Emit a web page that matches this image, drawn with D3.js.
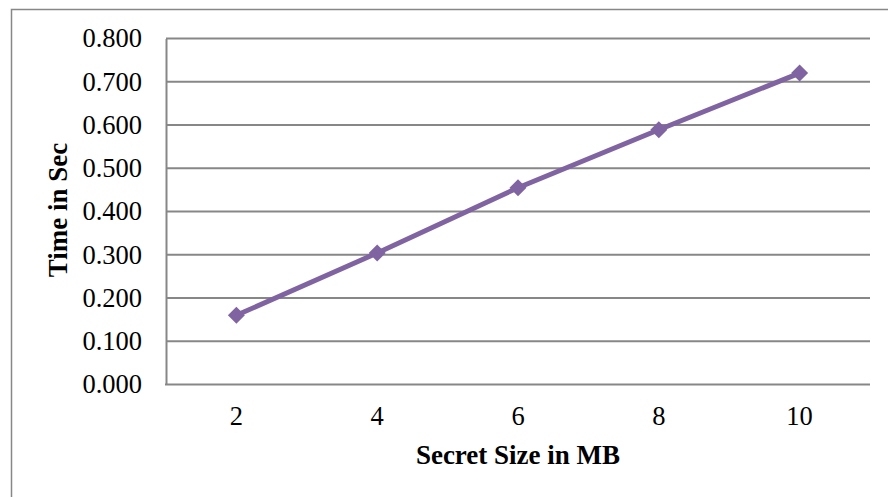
<!DOCTYPE html>
<html>
<head>
<meta charset="utf-8">
<script src="https://cdn.jsdelivr.net/npm/d3@7"></script>
<style>
  body { margin: 0; background: #fff; }
  text { font-family: "Liberation Serif", "Times New Roman", serif; fill: #000; }
  .tick-label { font-size: 26.5px; }
  .axis-title { font-size: 27px; font-weight: bold; }
</style>
</head>
<body>
<div id="chart"></div>
<script>
// DATA
const sizes = ["2", "4", "6", "8", "10"]
const times = [0.160, 0.304, 0.455, 0.589, 0.720]
const yTicks = [0, 0.1, 0.2, 0.3, 0.4, 0.5, 0.6, 0.7, 0.8]
const xTitle = "Secret Size in MB"
const yTitle = "Time in Sec"

// LAYOUT
const W = 888, H = 497
const PLOT = { LEFT: 166, RIGHT: 870, TOP: 38.5, BOTTOM: 384.5 }
const GRID_COLOR = "#878787"
const LINE_COLOR = "#8064A2"

const svg = d3.select("#chart").append("svg")
  .attr("width", W)
  .attr("height", H)

// outer chart frame (runs off the right and bottom of the picture)
svg.append("rect")
  .attr("x", 11.5).attr("y", 9.5)
  .attr("width", W + 20).attr("height", H + 20)
  .attr("fill", "none")
  .attr("stroke", GRID_COLOR)
  .attr("stroke-width", 1.5)

// SCALES
const xScale = d3.scaleBand().domain(sizes).range([PLOT.LEFT, PLOT.RIGHT])
const yScale = d3.scaleLinear().domain([0, 0.8]).range([PLOT.BOTTOM, PLOT.TOP])

// GRID
const gGrid = svg.append("g")
gGrid.selectAll("line").data(yTicks.filter(d => d > 0)).join("line")
  .attr("x1", PLOT.LEFT).attr("x2", PLOT.RIGHT)
  .attr("y1", d => yScale(d)).attr("y2", d => yScale(d))
  .attr("stroke", GRID_COLOR)
  .attr("stroke-width", 2)

// AXES
const yAxis = d3.axisLeft(yScale).tickValues(yTicks).tickSize(0).tickPadding(24)
  .tickFormat(d3.format(".3f"))
const gY = svg.append("g").attr("transform", `translate(${PLOT.LEFT},0)`).call(yAxis)
gY.select(".domain").attr("stroke", GRID_COLOR).attr("stroke-width", 2)
gY.selectAll("text").attr("class", "tick-label").attr("font-family", null).attr("font-size", null)
  .attr("dy", "0.32em")

const xAxis = d3.axisBottom(xScale).tickSize(0).tickPadding(22)
const gX = svg.append("g").attr("transform", `translate(0,${PLOT.BOTTOM})`).call(xAxis)
gX.select(".domain").attr("stroke", GRID_COLOR).attr("stroke-width", 2)
  .attr("d", `M${PLOT.LEFT - 1},0H${PLOT.RIGHT}`)
gX.selectAll("text").attr("class", "tick-label").attr("font-family", null).attr("font-size", null)
  .attr("dy", "0.68em")

// TITLES
svg.append("text")
  .attr("class", "axis-title")
  .attr("x", (PLOT.LEFT + PLOT.RIGHT) / 2).attr("y", 464)
  .attr("text-anchor", "middle")
  .text(xTitle)

svg.append("text")
  .attr("class", "axis-title")
  .attr("transform", `translate(67,210) rotate(-90)`)
  .attr("text-anchor", "middle")
  .text(yTitle)

// SERIES
const points = sizes.map((s, i) => ({ s: s, v: times[i] }))
const line = d3.line()
  .x(d => xScale(d.s) + xScale.bandwidth() / 2)
  .y(d => yScale(d.v))

svg.append("path")
  .datum(points)
  .attr("d", line)
  .attr("fill", "none")
  .attr("stroke", LINE_COLOR)
  .attr("stroke-width", 5)
  .attr("stroke-linejoin", "round")

const R = 8.5
svg.append("g").selectAll("path").data(points).join("path")
  .attr("transform", d => `translate(${xScale(d.s) + xScale.bandwidth() / 2},${yScale(d.v)})`)
  .attr("d", `M0,${-R}L${R},0L0,${R}L${-R},0Z`)
  .attr("fill", LINE_COLOR)
</script>
</body>
</html>
